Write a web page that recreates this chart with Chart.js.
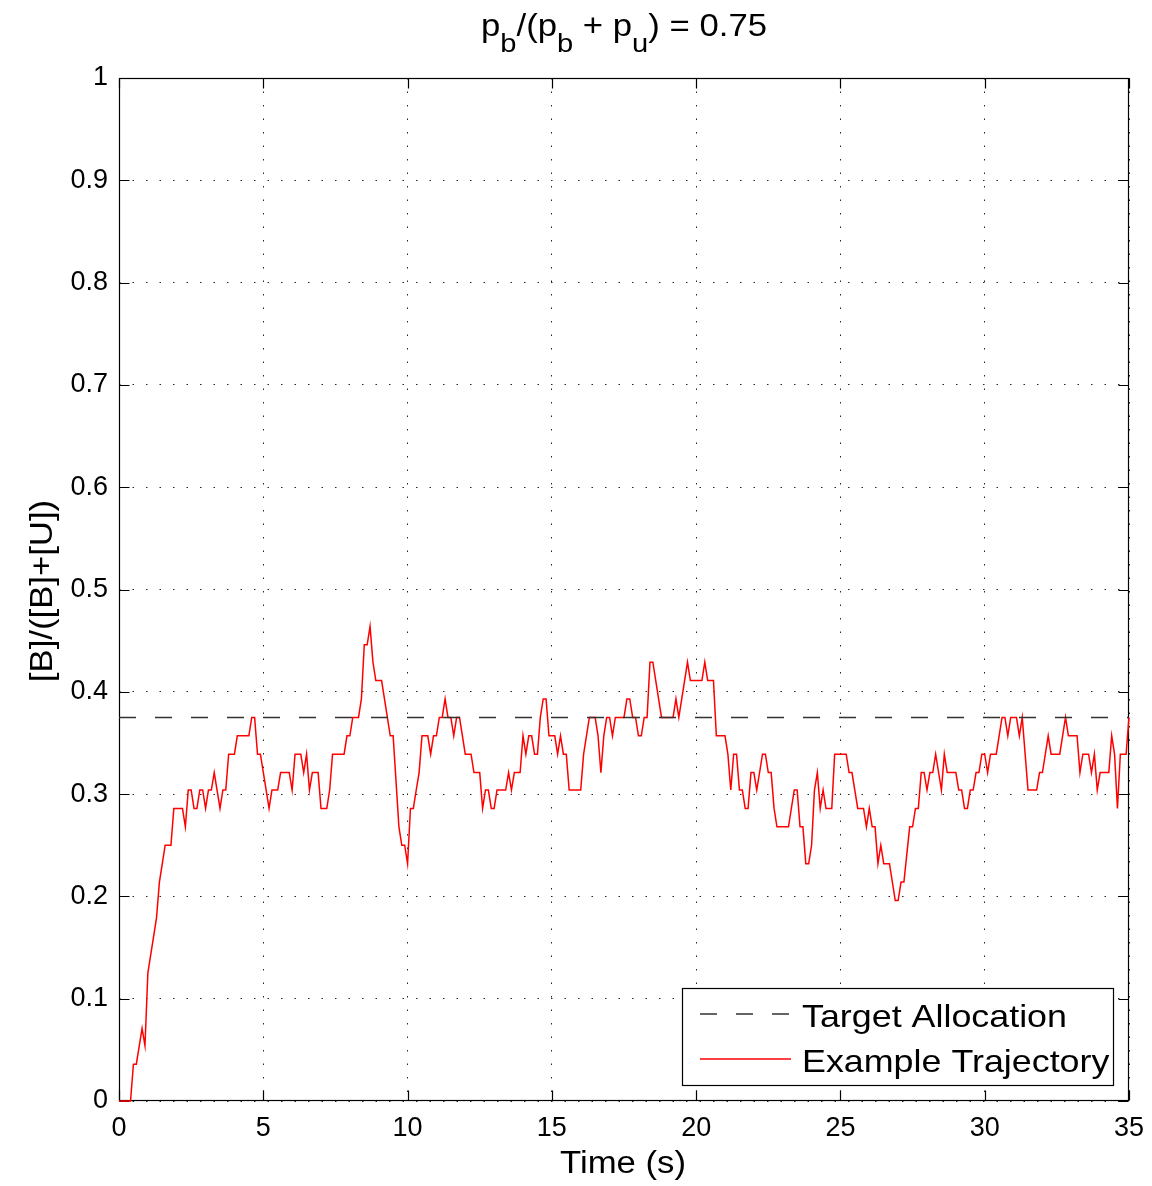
<!DOCTYPE html>
<html>
<head>
<meta charset="utf-8">
<title>Target allocation vs example trajectory</title>
<script src="https://cdn.jsdelivr.net/npm/chart.js"></script>
<style>
    html, body { margin: 0; padding: 0; background: #fff; }
    #wrap { position: relative; width: 1152px; height: 1186px; }
</style>
</head>
<body>
<div id="wrap"><canvas id="chart" width="1152" height="1186"></canvas></div>
<script>
// Sampled trajectory (time in s, fraction [B]/([B]+[U]))
const timeS = [
    0, 0.4, 0.5, 0.6, 0.8, 0.9, 1.0, 1.1, 1.2, 1.3, 1.4, 1.5, 1.6, 1.8, 1.9, 2.2, 2.3, 2.4, 2.5, 2.6,
    2.7, 2.8, 2.9, 3.0, 3.1, 3.2, 3.3, 3.5, 3.6, 3.7, 3.8, 4.0, 4.1, 4.5, 4.6, 4.7, 4.8, 4.9, 5.2, 5.3,
    5.5, 5.6, 5.9, 6.0, 6.1, 6.3, 6.4, 6.5, 6.6, 6.7, 6.9, 7.0, 7.2, 7.3, 7.4, 7.8, 7.9, 8.0, 8.1, 8.3,
    8.4, 8.5, 8.6, 8.7, 8.8, 8.9, 9.1, 9.4, 9.5, 9.7, 9.8, 9.9, 10.0, 10.1, 10.2, 10.3, 10.4, 10.5, 10.7, 10.8,
    10.9, 11.0, 11.1, 11.2, 11.3, 11.4, 11.5, 11.6, 11.7, 11.8, 12.0, 12.2, 12.3, 12.5, 12.6, 12.7, 12.8, 12.9, 13.0, 13.1,
    13.4, 13.5, 13.6, 13.7, 13.9, 14.0, 14.1, 14.2, 14.3, 14.4, 14.5, 14.6, 14.7, 14.8, 14.9, 15.1, 15.2, 15.3, 15.4, 15.5,
    15.6, 16.0, 16.1, 16.3, 16.5, 16.6, 16.7, 16.8, 16.9, 17.0, 17.1, 17.2, 17.5, 17.6, 17.7, 17.8, 17.9, 18.0, 18.1, 18.2,
    18.3, 18.4, 18.5, 18.8, 19.2, 19.3, 19.4, 19.6, 19.7, 19.8, 20.2, 20.3, 20.4, 20.6, 20.7, 21.0, 21.1, 21.2, 21.3, 21.4,
    21.5, 21.6, 21.7, 21.8, 21.9, 22.0, 22.1, 22.3, 22.4, 22.5, 22.6, 22.7, 22.8, 23.2, 23.4, 23.5, 23.6, 23.7, 23.8, 23.9,
    24.0, 24.1, 24.2, 24.3, 24.4, 24.5, 24.7, 24.8, 25.2, 25.3, 25.4, 25.6, 25.8, 25.9, 26.0, 26.1, 26.2, 26.3, 26.4, 26.5,
    26.7, 26.9, 27.0, 27.1, 27.2, 27.4, 27.5, 27.6, 27.7, 27.8, 27.9, 28.0, 28.1, 28.2, 28.3, 28.5, 28.6, 28.7, 29.0, 29.1,
    29.2, 29.3, 29.4, 29.5, 29.6, 29.7, 29.8, 29.9, 30.0, 30.1, 30.2, 30.4, 30.6, 30.7, 30.8, 30.9, 31.1, 31.2, 31.3, 31.5,
    31.8, 31.9, 32.0, 32.2, 32.3, 32.6, 32.8, 32.9, 33.2, 33.3, 33.4, 33.6, 33.7, 33.8, 33.9, 34.0, 34.3, 34.4, 34.5, 34.6,
    34.7, 34.9, 35.0
];
const fraction = [
    0, 0, 0.036, 0.036, 0.071, 0.054, 0.125, 0.143, 0.161, 0.179, 0.214, 0.232, 0.25, 0.25, 0.286, 0.286, 0.268, 0.304, 0.304, 0.286,
    0.286, 0.304, 0.304, 0.286, 0.304, 0.304, 0.321, 0.286, 0.304, 0.304, 0.339, 0.339, 0.357, 0.357, 0.375, 0.375, 0.339, 0.339, 0.286, 0.304,
    0.304, 0.321, 0.321, 0.304, 0.339, 0.339, 0.321, 0.339, 0.304, 0.321, 0.321, 0.286, 0.286, 0.304, 0.339, 0.339, 0.357, 0.357, 0.375, 0.375,
    0.393, 0.446, 0.446, 0.464, 0.429, 0.411, 0.411, 0.357, 0.357, 0.268, 0.25, 0.25, 0.232, 0.286, 0.286, 0.304, 0.321, 0.357, 0.357, 0.339,
    0.357, 0.357, 0.375, 0.375, 0.393, 0.375, 0.375, 0.357, 0.375, 0.375, 0.339, 0.339, 0.321, 0.321, 0.286, 0.304, 0.304, 0.286, 0.286, 0.304,
    0.304, 0.321, 0.304, 0.321, 0.321, 0.357, 0.339, 0.357, 0.357, 0.339, 0.339, 0.375, 0.393, 0.393, 0.357, 0.357, 0.339, 0.357, 0.339, 0.339,
    0.304, 0.304, 0.339, 0.375, 0.375, 0.357, 0.321, 0.357, 0.375, 0.375, 0.357, 0.375, 0.375, 0.393, 0.393, 0.375, 0.375, 0.357, 0.357, 0.375,
    0.375, 0.429, 0.429, 0.375, 0.375, 0.393, 0.375, 0.411, 0.429, 0.411, 0.411, 0.429, 0.411, 0.411, 0.357, 0.357, 0.339, 0.304, 0.339, 0.339,
    0.304, 0.304, 0.286, 0.286, 0.321, 0.321, 0.304, 0.339, 0.339, 0.321, 0.321, 0.286, 0.268, 0.268, 0.304, 0.304, 0.268, 0.268, 0.232, 0.232,
    0.25, 0.304, 0.321, 0.286, 0.304, 0.286, 0.286, 0.339, 0.339, 0.321, 0.321, 0.286, 0.286, 0.268, 0.286, 0.268, 0.268, 0.232, 0.25, 0.232,
    0.232, 0.196, 0.196, 0.214, 0.214, 0.268, 0.268, 0.286, 0.286, 0.321, 0.321, 0.304, 0.321, 0.321, 0.339, 0.304, 0.339, 0.321, 0.321, 0.304,
    0.304, 0.286, 0.286, 0.304, 0.304, 0.321, 0.321, 0.339, 0.339, 0.321, 0.339, 0.339, 0.375, 0.375, 0.357, 0.375, 0.375, 0.357, 0.375, 0.304,
    0.304, 0.321, 0.321, 0.357, 0.339, 0.339, 0.375, 0.357, 0.357, 0.321, 0.339, 0.339, 0.321, 0.339, 0.304, 0.321, 0.321, 0.357, 0.339, 0.286,
    0.339, 0.339, 0.375
];

// Target allocation line
const targetTimes = [0, 35];
const targetLevel = [0.375, 0.375];

// Axis ticks
const xTicks = [0, 5, 10, 15, 20, 25, 30, 35];
const yTicks = [0, 0.1, 0.2, 0.3, 0.4, 0.5, 0.6, 0.7, 0.8, 0.9, 1];

// Texts
const titleParts = [['p', false], ['b', true], ['/(p', false], ['b', true], [' + p', false], ['u', true], [') = 0.75', false]];
const xLabel = 'Time (s)';
const yLabel = '[B]/([B]+[U])';
const legendLabels = ['Target Allocation', 'Example Trajectory'];

document.addEventListener('DOMContentLoaded', function() {
    const FONT = '"Liberation Sans", Arial, Helvetica, sans-serif';
    const STRETCH = 1.12;

    function stretchedText(ctx, text, x, y, size, align) {
        ctx.save();
        ctx.font = size + 'px ' + FONT;
        const w = ctx.measureText(text).width * STRETCH;
        let x0 = x;
        if (align === 'center') x0 = x - w / 2;
        if (align === 'right') x0 = x - w;
        ctx.translate(x0, y);
        ctx.scale(STRETCH, 1);
        ctx.textAlign = 'left';
        ctx.fillText(text, 0, 0);
        ctx.restore();
        return w;
    }

    // MATLAB-like frame: box and inward ticks under the lines, texts and legend on top
    const frame = {
        id: 'matlabFrame',
        beforeDatasetsDraw(chart) {
            const ctx = chart.ctx;
            const a = chart.chartArea;
            const xs = chart.scales.x, ys = chart.scales.y;
            const L = Math.round(a.left) + 0.5, R = Math.round(a.right) - 0.5;
            const T = Math.round(a.top) + 0.5, B = Math.round(a.bottom) - 0.5;

            ctx.save();
            ctx.strokeStyle = '#000';
            ctx.lineWidth = 1.2;
            ctx.strokeRect(L, T, R - L, B - T);

            ctx.beginPath();
            xTicks.forEach(v => {
                const px = Math.round(xs.getPixelForValue(v)) + 0.5;
                ctx.moveTo(px, B); ctx.lineTo(px, B - 10);
                ctx.moveTo(px, T); ctx.lineTo(px, T + 10);
            });
            yTicks.forEach(v => {
                const py = Math.round(ys.getPixelForValue(v)) + 0.5;
                ctx.moveTo(L, py); ctx.lineTo(L + 10, py);
                ctx.moveTo(R, py); ctx.lineTo(R - 10, py);
            });
            ctx.stroke();
            ctx.restore();
        },
        afterDraw(chart) {
            const ctx = chart.ctx;
            ctx.save();
            ctx.fillStyle = '#000';
            ctx.textBaseline = 'alphabetic';

            // title with subscripts
            let total = 0;
            titleParts.forEach(p => {
                ctx.font = (p[1] ? 26 : 31) + 'px ' + FONT;
                total += ctx.measureText(p[0]).width * STRETCH;
            });
            let tx = 624 - total / 2;
            titleParts.forEach(p => {
                tx += stretchedText(ctx, p[0], tx, p[1] ? 52 : 36, p[1] ? 26 : 31, 'left');
            });

            // axis labels
            stretchedText(ctx, xLabel, 623, 1173, 31, 'center');
            ctx.save();
            ctx.translate(52, 591);
            ctx.rotate(-Math.PI / 2);
            stretchedText(ctx, yLabel, 0, 0, 31, 'center');
            ctx.restore();

            // legend
            ctx.fillStyle = '#fff';
            ctx.fillRect(682, 988, 431, 97);
            ctx.strokeStyle = '#000';
            ctx.lineWidth = 1.2;
            ctx.strokeRect(682.5, 988.5, 431, 97);

            ctx.lineWidth = 1.5;
            ctx.strokeStyle = '#333';
            ctx.setLineDash([17, 19]);
            ctx.beginPath(); ctx.moveTo(700, 1014); ctx.lineTo(791, 1014); ctx.stroke();
            ctx.setLineDash([]);
            ctx.strokeStyle = '#ff0000';
            ctx.beginPath(); ctx.moveTo(700, 1059); ctx.lineTo(791, 1059); ctx.stroke();

            ctx.fillStyle = '#000';
            stretchedText(ctx, legendLabels[0], 802, 1027, 32, 'left');
            stretchedText(ctx, legendLabels[1], 802, 1072, 32, 'left');
            ctx.restore();
        }
    };

    const ctx = document.getElementById('chart').getContext('2d');
    new Chart(ctx, {
        type: 'line',
        data: {
            datasets: [{
                label: legendLabels[0],
                data: targetTimes.map((t, i) => ({ x: t, y: targetLevel[i] })),
                borderColor: '#333333',
                borderWidth: 1.5,
                borderDash: [17, 19],
                pointRadius: 0,
                clip: false,
                tension: 0
            }, {
                label: legendLabels[1],
                data: timeS.map((t, i) => ({ x: t, y: fraction[i] })),
                borderColor: '#ff0000',
                borderWidth: 1.5,
                pointRadius: 0,
                clip: false,
                tension: 0
            }]
        },
        options: {
            responsive: false,
            animation: false,
            layout: { padding: { top: 78, right: 23, left: 0, bottom: 0 } },
            plugins: {
                legend: { display: false },
                title: { display: false },
                tooltip: { enabled: false }
            },
            scales: {
                x: {
                    type: 'linear',
                    min: 0,
                    max: 35,
                    afterBuildTicks: s => { s.ticks = xTicks.map(v => ({ value: v })); },
                    afterFit: s => { s.height = 85; s.paddingLeft = 0; s.paddingRight = 0; },
                    ticks: {
                        padding: 11,
                        color: '#000',
                        maxRotation: 0,
                        font: { family: FONT, size: 27 },
                        callback: v => String(v)
                    },
                    grid: { color: 'rgba(0,0,0,0.85)', lineWidth: 1, drawTicks: false },
                    border: { display: false, dash: [1.5, 12] }
                },
                y: {
                    type: 'linear',
                    min: 0,
                    max: 1,
                    afterBuildTicks: s => { s.ticks = yTicks.map(v => ({ value: v })); },
                    afterFit: s => { s.width = 119; s.paddingTop = 0; s.paddingBottom = 0; },
                    ticks: {
                        padding: 11,
                        color: '#000',
                        font: { family: FONT, size: 27 },
                        callback: v => String(Math.round(v * 10) / 10)
                    },
                    grid: { color: 'rgba(0,0,0,0.85)', lineWidth: 1, drawTicks: false },
                    border: { display: false, dash: [1.5, 12] }
                }
            }
        },
        plugins: [frame]
    });
});
</script>
</body>
</html>
